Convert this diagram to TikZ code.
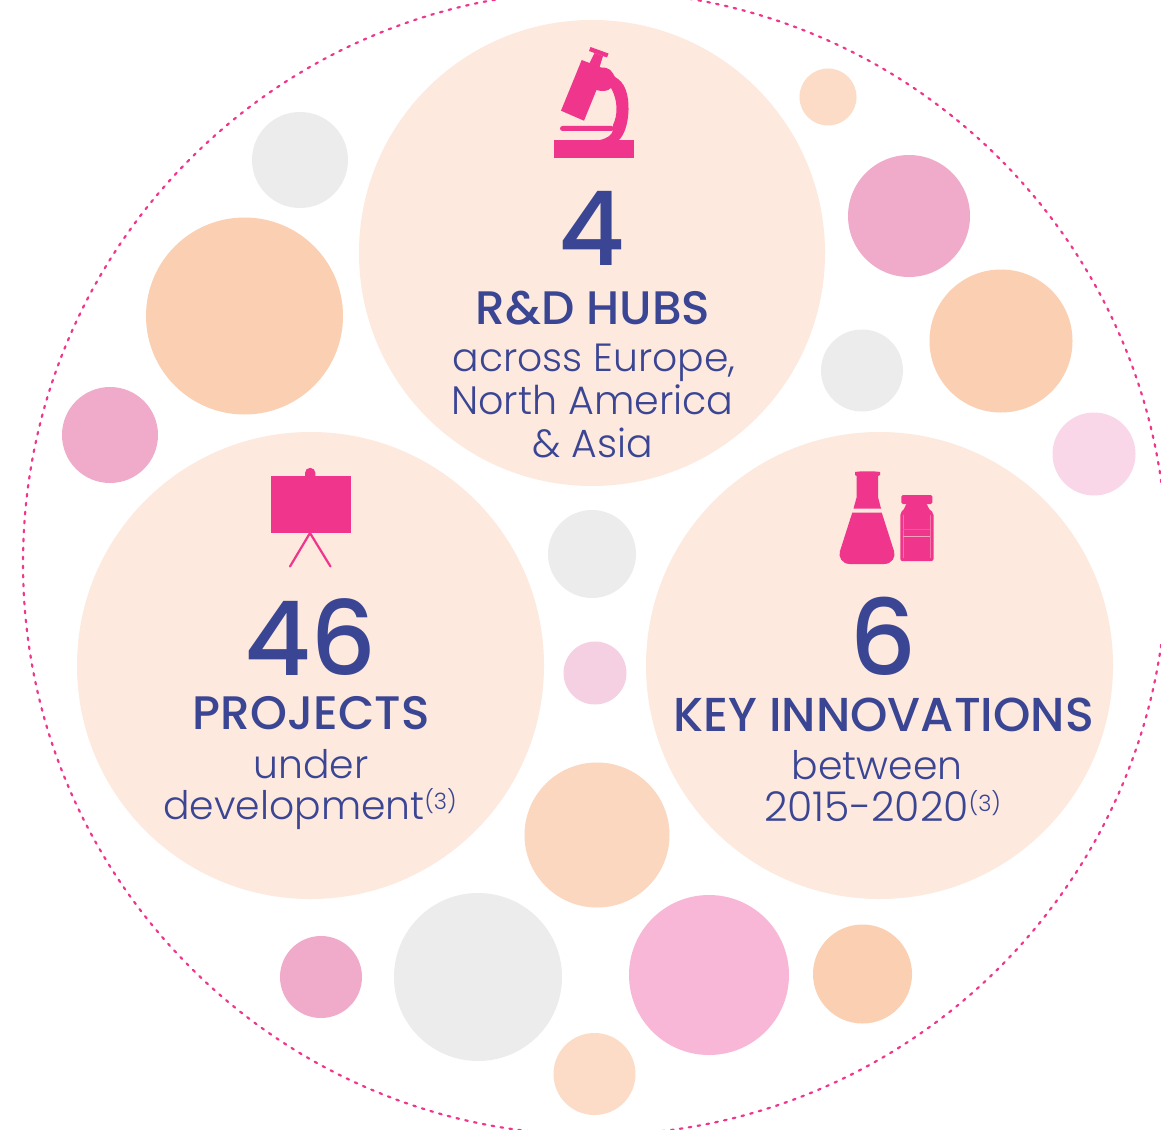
\documentclass[tikz,border=0pt]{standalone}
\usepackage{fontspec}
\setmainfont{Poppins Medium}
\newfontfamily\lightf{Poppins Light}
\definecolor{bigc}{HTML}{FDE9DD}
\definecolor{orangec}{HTML}{FBCFB1}
\definecolor{pinkc}{HTML}{F0ABCB}
\definecolor{grayc}{HTML}{ECECEC}
\definecolor{paleo}{HTML}{FCDCC6}
\definecolor{lightp}{HTML}{FAD7E8}
\definecolor{lightq}{HTML}{F5D0E3}
\definecolor{hotp}{HTML}{F8B7D6}
\definecolor{midor}{HTML}{FBD7BF}
\definecolor{navy}{HTML}{3A4594}
\definecolor{mag}{HTML}{F0368C}
\tikzset{
  bub/.style={circle,inner sep=0pt,outer sep=0pt,draw=none},
  num/.style={text=navy,inner sep=0pt,anchor=base},
  ico/.style={fill=mag,draw=none},
}
\newcommand{\bubble}[5]{\node[bub,minimum size=#4*2pt,fill=#5] (#1) at (#2,#3) {};}
\newcommand{\ttl}[1]{\fontsize{#1}{#1}\selectfont}
\newcommand{\refmark}{\raisebox{10pt}{\ttl{22.5pt}(3)}}
\begin{document}
\begin{tikzpicture}[x=1pt,y=-1pt]
\useasboundingbox (0,0) rectangle (1161,1129);
\begin{scope}
\clip (0,0) rectangle (1161,1129);
\fill[white] (0,0) rectangle (1161,1129);
\node[bub,minimum size=1144pt,draw=mag,line width=2.2pt,line cap=round,dash pattern=on 2.6pt off 6.4pt] (outer) at (595,563) {};
\end{scope}
\bubble{top}{592}{253}{233}{bigc}
\bubble{left}{310.5}{665.5}{233.5}{bigc}
\bubble{right}{879.5}{665.5}{233.5}{bigc}
\bubble{b1}{300}{160}{48}{grayc}
\bubble{b2}{244.5}{316}{98.5}{orangec}
\bubble{b3}{110}{435}{48}{pinkc}
\bubble{b4}{828}{97}{28.5}{paleo}
\bubble{b5}{909}{216}{61}{pinkc}
\bubble{b6}{1001}{341}{71.5}{orangec}
\bubble{b7}{862}{370.5}{41}{grayc}
\bubble{b8}{1094}{454}{41.5}{lightp}
\bubble{b9}{592}{554}{44}{grayc}
\bubble{b10}{595}{673}{31.5}{lightq}
\bubble{b11}{597}{835}{72.5}{midor}
\bubble{b12}{478}{977}{84}{grayc}
\bubble{b13}{321}{977}{41}{pinkc}
\bubble{b14}{709}{975}{80}{hotp}
\bubble{b15}{862.5}{974}{49.5}{orangec}
\bubble{b16}{594.5}{1074}{41}{paleo}
% microscope
\fill[ico] (554,140) rectangle (634,158);
\fill[ico] (581.7,60) -- (561,110.7) -- (584,120.7) -- (605,69) -- cycle;
\fill[ico] (594.5,53) -- (603,56) -- (599,69) -- (589,64) -- cycle;
\fill[ico] (590.5,47) -- (608.5,53.5) -- (607,57.5) -- (589,51) -- cycle;
\fill[ico] (600,68) .. controls (610,66) and (612,72) .. (615,77)
  .. controls (625,82) and (629,95) .. (628.5,110)
  .. controls (628,125) and (624,135) .. (619,140) -- (600,140)
  .. controls (608,138) and (612,135) .. (613,130) -- (613,125)
  .. controls (618,115) and (618,100) .. (611,88)
  .. controls (608,91) and (603,92) .. (596,90) -- cycle;
\fill[ico,rounded corners=2.5pt] (560,126) rectangle (614,131);
% easel
\fill[ico] (270.5,476) rectangle (350.5,533);
\fill[ico] (305,476) -- (305,473) arc[start angle=180,end angle=0,radius=5.2pt] -- (315.4,476) -- cycle;
\draw[mag,line width=2.2pt,line cap=round] (290,566.5) -- (310,533) -- (330.5,566.5);
% flask
\fill[ico] (855,472) .. controls (860,471) and (875,471) .. (880,472) -- (880,475) -- (878,476) -- (878,497)
  -- (881,508.5) -- (853.5,508.5) -- (856.7,497) -- (856.7,476) -- (855,475) -- cycle;
\fill[ico] (852.3,512.5) -- (881.7,512.5) -- (894,551) .. controls (896,557) and (892,564) .. (884,564)
  -- (850,564) .. controls (842,564) and (838,557) .. (840,551) -- cycle;
% vial
\fill[ico,rounded corners=1.5pt] (901.3,495) rectangle (932.3,504);
\fill[ico,rounded corners=2pt] (906,503) -- (927,503) -- (928,508) -- (933.5,513) -- (933.5,561) -- (900.3,561) -- (900.3,513) -- (905,508) -- cycle;
\draw[bigc!35!mag,line width=.6pt] (903.3,515) -- (903.3,558) (930.3,515) -- (930.3,558);
\draw[bigc!20!mag,line width=.5pt] (903.3,529) -- (930.3,529);
\draw[bigc!60!mag,line width=.8pt] (903.3,536.7) -- (930.3,536.7);
% text
\node[num] (n1) at (592,265) {\ttl{103pt}4};
\node[num] (t1) at (593,324) {\ttl{47pt}R\&D HUBS};
\node[num] (s1a) at (594,371) {\lightf\ttl{39.3pt}across Europe,};
\node[num] (s1b) at (592.5,414) {\lightf\ttl{39.6pt}North America};
\node[num] (s1c) at (593,457) {\lightf\ttl{39.3pt}\& Asia};
\node[num] (n2) at (310.5,675) {\ttl{103pt}46};
\node[num] (t2) at (311,729) {\ttl{47pt}PROJECTS};
\node[num] (s2a) at (311,778) {\lightf\ttl{39.3pt}under};
\node[num] (s2b) at (310,819) {\lightf\ttl{39.3pt}development\refmark};
\node[num] (n3) at (883,675) {\ttl{105pt}6};
\node[num] (t3) at (883.5,731) {\ttl{47.6pt}KEY INNOVATIONS};
\node[num] (s3a) at (877,779) {\lightf\ttl{39.3pt}between};
\node[num] (s3b) at (882.5,821) {\lightf\ttl{41pt}2015-2020\refmark};
\end{tikzpicture}
\end{document}
